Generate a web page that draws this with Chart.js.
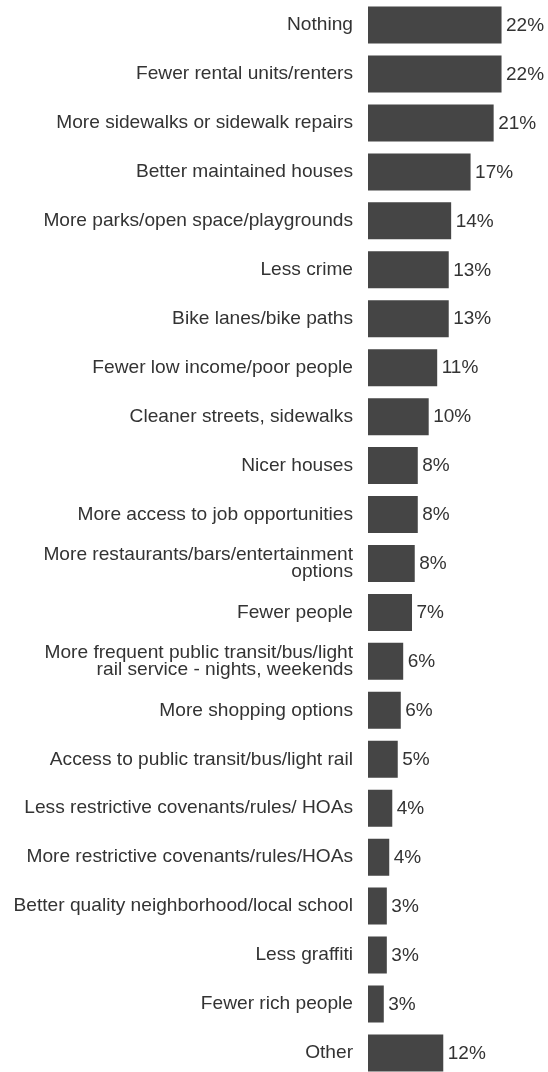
<!DOCTYPE html>
<html>
<head>
<meta charset="utf-8">
<script src="https://cdn.jsdelivr.net/npm/chart.js@4/dist/chart.umd.min.js"></script>
<style>
  html, body { margin: 0; padding: 0; background: #ffffff; overflow: hidden; }
  #wrap { position: relative; width: 548px; height: 1124px; margin-top: -23px; }
</style>
</head>
<body>
<div id="wrap"><canvas id="c"></canvas></div>
<script>
const categories = [
  "Nothing",
  "Fewer rental units/renters",
  "More sidewalks or sidewalk repairs",
  "Better maintained houses",
  "More parks/open space/playgrounds",
  "Less crime",
  "Bike lanes/bike paths",
  "Fewer low income/poor people",
  "Cleaner streets, sidewalks",
  "Nicer houses",
  "More access to job opportunities",
  ["More restaurants/bars/entertainment", "options"],
  "Fewer people",
  ["More frequent public transit/bus/light", "rail service - nights, weekends"],
  "More shopping options",
  "Access to public transit/bus/light rail",
  "Less restrictive covenants/rules/ HOAs",
  "More restrictive covenants/rules/HOAs",
  "Better quality neighborhood/local school",
  "Less graffiti",
  "Fewer rich people",
  "Other"
];
const values = [22.0, 22.0, 20.7, 16.9, 13.7, 13.3, 13.3, 11.4, 10.0, 8.2, 8.2, 7.7, 7.25, 5.8, 5.4, 4.9, 4.0, 3.5, 3.1, 3.1, 2.6, 12.4];
const valueLabels = ["22%", "22%", "21%", "17%", "14%", "13%", "13%", "11%", "10%", "8%", "8%", "8%", "7%", "6%", "6%", "5%", "4%", "4%", "3%", "3%", "3%", "12%"];

const FONT = '"Liberation Sans", Arial, Helvetica, sans-serif';
const TEXT_COLOR = '#333333';
const BAR_COLOR = '#454545';

const valueLabelPlugin = {
  id: 'valueLabels',
  afterDatasetsDraw(chart) {
    const ctx = chart.ctx;
    const meta = chart.getDatasetMeta(0);
    ctx.save();
    ctx.font = '19px ' + FONT;
    ctx.fillStyle = TEXT_COLOR;
    ctx.textAlign = 'left';
    ctx.textBaseline = 'middle';
    meta.data.forEach((bar, i) => {
      ctx.fillText(valueLabels[i], bar.x + 4.5, bar.y + 0.5);
    });
    ctx.restore();
  }
};

new Chart(document.getElementById('c'), {
  type: 'bar',
  data: {
    labels: categories,
    datasets: [{
      data: values,
      backgroundColor: BAR_COLOR,
      borderWidth: 0,
      barPercentage: 0.756,
      categoryPercentage: 1.0
    }]
  },
  options: {
    indexAxis: 'y',
    responsive: true,
    maintainAspectRatio: false,
    animation: false,
    layout: { padding: { left: 0, right: 28.25, top: 0, bottom: 0 } },
    plugins: {
      legend: { display: false },
      tooltip: { enabled: false }
    },
    scales: {
      x: {
        display: false,
        min: 0,
        max: 25
      },
      y: {
        grid: { display: false, drawTicks: false },
        border: { display: false },
        afterFit(scale) { scale.width = 368; },
        ticks: {
          color: TEXT_COLOR,
          padding: 15,
          autoSkip: false,
          font: { family: FONT, size: 19.15, lineHeight: 0.9 }
        }
      }
    }
  },
  plugins: [valueLabelPlugin]
});
</script>
</body>
</html>
